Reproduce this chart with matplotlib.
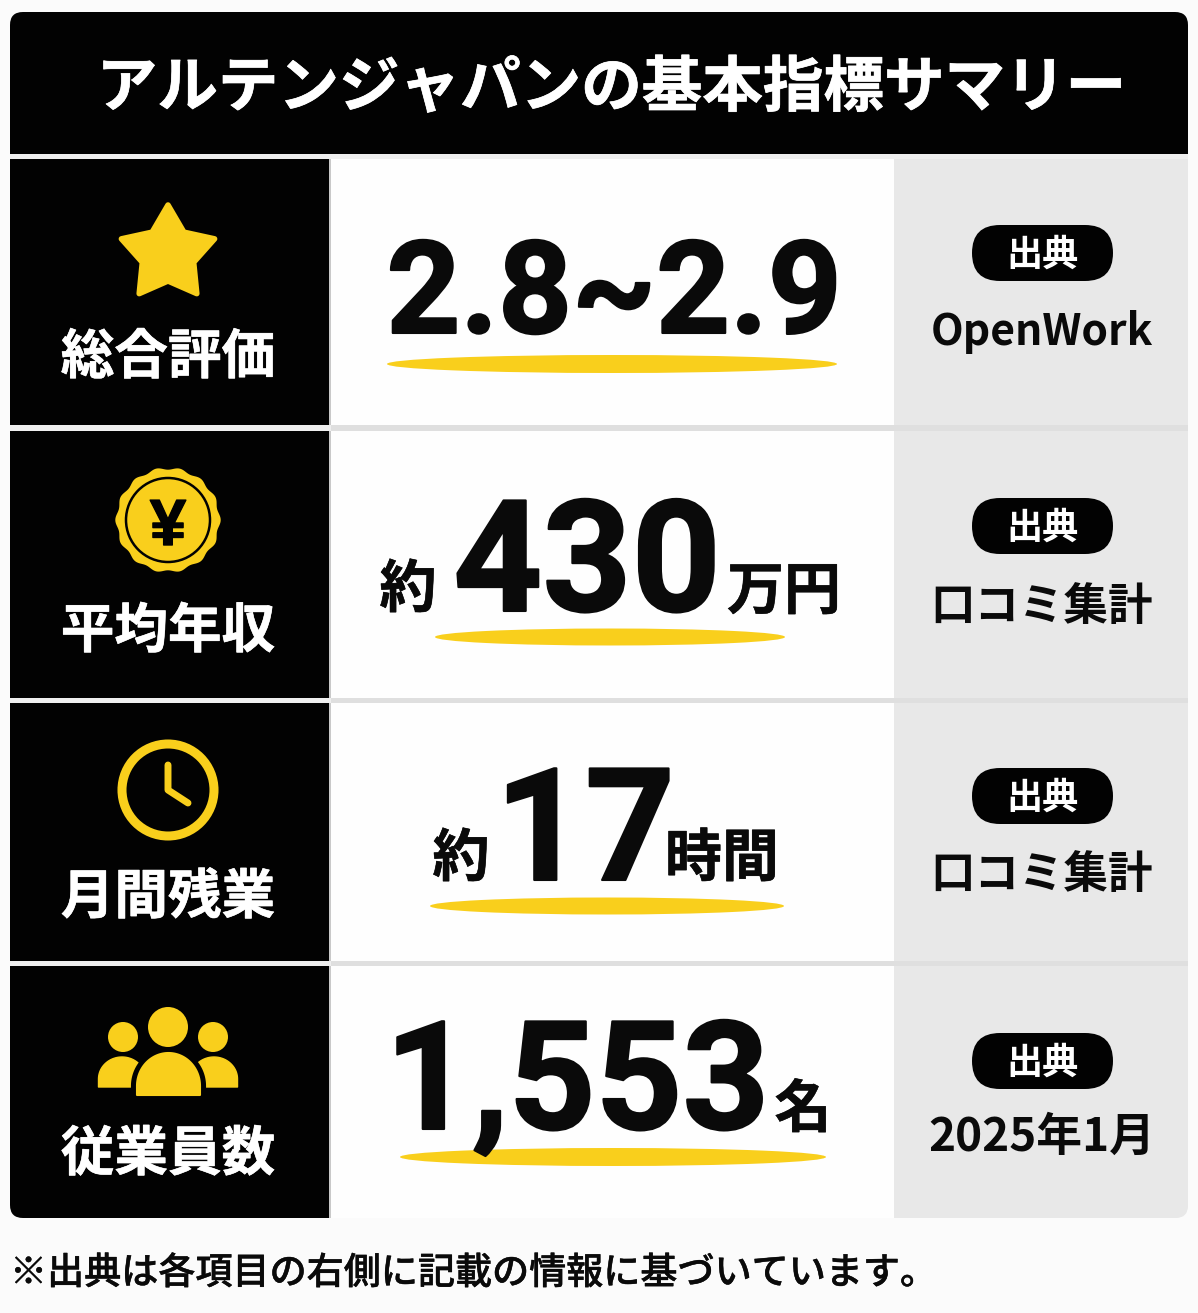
import numpy as np
import matplotlib
matplotlib.use("Agg")
import matplotlib.pyplot as plt
import matplotlib.patheffects as pe
from matplotlib.patches import FancyBboxPatch, Rectangle, Circle, Ellipse, Polygon

plt.rcParams['font.family'] = ['Noto Sans CJK JP', 'DejaVu Sans']

TITLE = "アルテンジャパンの基本指標サマリー"
LABELS = ["総合評価", "平均年収", "月間残業", "従業員数"]
SOURCES = ["OpenWork", "口コミ集計", "口コミ集計", "2025年1月"]
SOURCE_TAG = "出典"
FOOTNOTE = "※出典は各項目の右側に記載の情報に基づいています。"
PREFIX = ["", "約", "約", ""]
MAIN = ["2.8~2.9", "430", "17", "1,553"]
SUFFIX = ["", "万円", "時間", "名"]

BLACK = "#020202"
INK = "#0a0a0a"
YELLOW = "#f9cf1c"
GREY = "#e8e8e8"
PANEL = "#fefefe"
GAP = "#efefef"

fig = plt.figure(figsize=(11.98, 13.13), dpi=100, facecolor="#fbfbfb")
ax = fig.add_axes([0, 0, 1, 1])
ax.set_xlim(0, 1198)
ax.set_ylim(1313, 0)
ax.axis("off")


def heavy(w, color=INK):
    return [pe.withStroke(linewidth=w, foreground=color)]


def dome(cx, half_w, top, bottom, shoulder):
    """Half-ellipse head-and-shoulders outline with a flat foot."""
    t = np.linspace(np.pi, 2 * np.pi, 60)
    xs = cx + half_w * np.cos(t)
    ys = shoulder + (shoulder - top) * np.sin(t)
    return np.c_[np.r_[cx - half_w, xs, cx + half_w], np.r_[bottom, ys, bottom]]


card = FancyBboxPatch((10, 12), 1178, 1206, boxstyle="round,pad=0,rounding_size=13",
                      fc=GAP, ec="none", zorder=1)
ax.add_patch(card)


def clipped_rect(x, y, w, h, color, z=2):
    r = Rectangle((x, y), w, h, fc=color, ec="none", zorder=z)
    ax.add_patch(r)
    r.set_clip_path(card)


clipped_rect(10, 12, 1178, 142, BLACK)
ax.text(611, 82, TITLE, color="white", fontsize=43.6, fontweight="bold",
        ha="center", va="center_baseline", zorder=3, path_effects=heavy(0.5, "white"))

rows = [(159, 425), (431, 698), (703, 961), (966, 1218)]
for y0, y1 in rows:
    h = y1 - y0
    clipped_rect(10, y0, 319, h, BLACK)
    clipped_rect(329, y0, 2, h, "#c9c9c9")
    clipped_rect(331, y0, 563, h, PANEL)
    clipped_rect(894, y0, 294, h, GREY)
for y0, y1 in zip([r[1] for r in rows[:-1]], [r[0] for r in rows[1:]]):
    clipped_rect(331, y0, 857, y1 - y0, "#dfdfdf")

label_y = [352, 626, 892, 1149]
for lab, y in zip(LABELS, label_y):
    ax.text(168, y, lab, color="white", fontsize=38.6, fontweight="bold",
            ha="center", va="center_baseline", zorder=3, path_effects=heavy(0.4, "white"))

# star icon
k = np.arange(10)
ang = np.deg2rad(k * 36 - 90)
rad = np.where(k % 2 == 0, 49, 27)
ax.add_patch(Polygon(np.c_[168 + rad * np.cos(ang), 254 + rad * np.sin(ang)], closed=True,
                     fc=YELLOW, ec=YELLOW, lw=4, joinstyle="round", zorder=3))

# yen coin icon
ang = np.linspace(0, 2 * np.pi, 361)
rad = 51.5 + 1.2 * np.cos(14 * ang)
ax.add_patch(Polygon(np.c_[168 + rad * np.cos(ang), 520 + rad * np.sin(ang)], closed=True,
                     fc=YELLOW, ec="none", zorder=3))
ax.add_patch(Circle((168, 520), 42, fc="none", ec=BLACK, lw=1.8, zorder=4))
ax.text(168, 545, "¥", color=BLACK, fontsize=47, fontweight="bold", ha="center", va="baseline",
        family=['Liberation Sans'], zorder=5, path_effects=heavy(1.0, BLACK))

# clock icon
ax.add_patch(Circle((168, 790), 46, fc="none", ec=YELLOW, lw=6.5, zorder=3))
ax.plot([168, 168, 188], [765, 790, 803], color=YELLOW, lw=5, solid_capstyle="round",
        solid_joinstyle="round", zorder=3)

# people icon
for cx, cy, r in [(123, 1037, 15), (213, 1037, 15), (168, 1027, 20)]:
    ax.add_patch(Circle((cx, cy), r, fc=YELLOW, ec="none", zorder=3))
for cx in (122, 214):
    ax.add_patch(Polygon(dome(cx, 23.5, 1057, 1087, 1079), closed=True, fc=YELLOW, ec=YELLOW,
                         lw=1, joinstyle="round", zorder=3))
ax.add_patch(Polygon(dome(168.5, 32, 1053, 1096, 1086), closed=True, fc=BLACK, ec=BLACK,
                     lw=8, joinstyle="round", zorder=3.5))
ax.add_patch(Polygon(dome(168.5, 31.5, 1053, 1095, 1086), closed=True, fc=YELLOW, ec=YELLOW,
                     lw=1.5, joinstyle="round", zorder=3.6))

# main values: baselines sit on the digits' foot
value_specs = [
    dict(x=614, base=333, fs=93),
    dict(x=587, base=611, fs=112, pre=(408, 584), suf=(784, 586)),
    dict(x=585, base=880, fs=113, pre=(461, 853), suf=(722, 853)),
    dict(x=577, base=1129, fs=109, suf=(803, 1104)),
]
underlines = [(612, 364, 450, 18), (610, 637, 350, 17), (607, 906, 354, 17), (613, 1157, 426, 18)]
for i, s in enumerate(value_specs):
    cx, cy, w, hh = underlines[i]
    ax.add_patch(Ellipse((cx, cy), w, hh, fc=YELLOW, ec="none", zorder=3))
    ax.text(s["x"], s["base"], MAIN[i], color=INK, fontsize=s["fs"], fontweight="bold",
            family=['Roboto', 'Liberation Sans'], ha="center", va="baseline", zorder=4,
            path_effects=heavy(1.5))
    if PREFIX[i]:
        ax.text(*s["pre"], PREFIX[i], color=INK, fontsize=41, fontweight="bold",
                ha="center", va="center_baseline", zorder=4, path_effects=heavy(0.4))
    if SUFFIX[i]:
        ax.text(*s["suf"], SUFFIX[i], color=INK, fontsize=41, fontweight="bold",
                ha="center", va="center_baseline", zorder=4, path_effects=heavy(0.4))

# source column
tag_y = [251, 524, 794, 1059]
src_y = [327, 602, 870, 1133]
src_fs = [30.7, 32, 32, 33]
for tag, sy, src, fs in zip(tag_y, src_y, SOURCES, src_fs):
    ax.add_patch(FancyBboxPatch((972, tag - 26), 141, 56, boxstyle="round,pad=0,rounding_size=28",
                                fc=BLACK, ec="none", zorder=3))
    ax.text(1042, tag, SOURCE_TAG, color="white", fontsize=26, fontweight="bold",
            ha="center", va="center_baseline", zorder=4)
    ax.text(1042, sy, src, color=INK, fontsize=fs, fontweight="bold",
            ha="center", va="center_baseline", zorder=4)

ax.text(10, 1269, FOOTNOTE, color=INK, fontsize=26.7, fontweight="medium",
        ha="left", va="center_baseline", zorder=4, path_effects=heavy(0.3))

fig.savefig("out.png", dpi=100, facecolor=fig.get_facecolor())
